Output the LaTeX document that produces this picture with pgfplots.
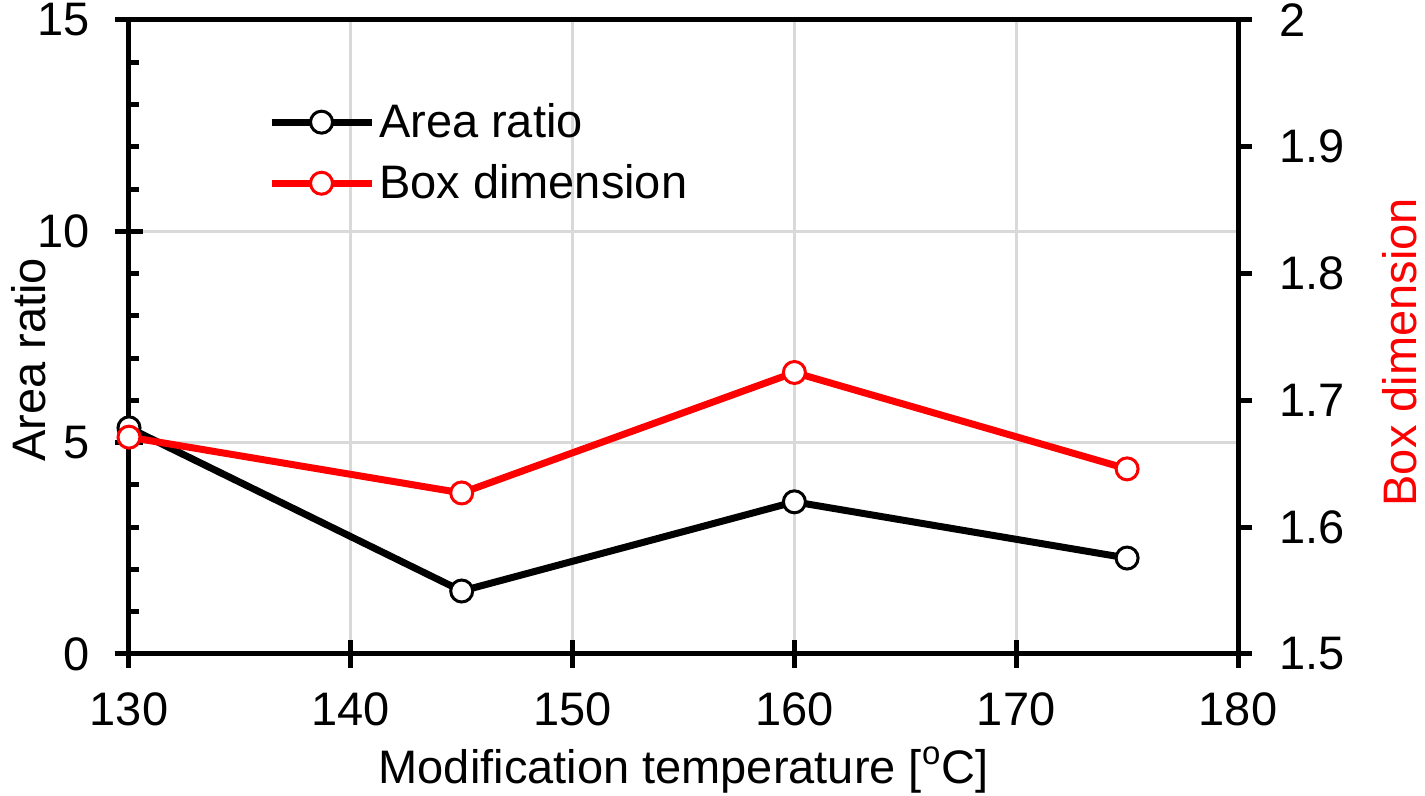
\documentclass[border=0pt]{standalone}
\usepackage{fontspec}
\setmainfont{Liberation Sans}
\usepackage{pgfplots}
\pgfplotsset{compat=1.18}
\definecolor{gridgray}{RGB}{217,217,217}
\newcommand{\bigfont}{\fontsize{23.5}{28}\selectfont}

\pgfplotsset{
  common/.style={
    scale only axis, width=554.5pt, height=317pt,
    xmin=130, xmax=180,
    tick label style={font=\bigfont},
    /pgf/number format/assume math mode=true,
    label style={font=\bigfont},
    axis line style={line width=2.5pt},
    major tick style={black, line width=2.5pt},
  },
  pline/.style={line width=3.5pt, mark=*, mark size=5.5pt},
}

\begin{document}
\begin{tikzpicture}
\path[use as bounding box] (-64.5pt,-71pt) rectangle (648pt,327pt);

\begin{axis}[
  common,
  ymin=0, ymax=15,
  xtick={130,140,...,180}, ytick={0,5,10,15},
  minor y tick num=4,
  xtick pos=bottom, ytick pos=left,
  tick align=center,
  major tick length=14pt,
  minor tick length=5pt,
  minor tick style={black, line width=2.5pt, xshift=2.5pt},
  xticklabel style={yshift=-9pt},
  yticklabel style={xshift=-9pt},
  grid=major,
  major grid style={gridgray, line width=1.5pt},
  xlabel={Modification temperature [\textsuperscript{o}C]},
  ylabel={Area ratio},
  xlabel style={at={(axis description cs:0.5,-0.183)}, anchor=center},
  ylabel style={at={(axis description cs:-0.09,0.464)}, anchor=center},
  legend style={at={(0.125,0.875)}, anchor=north west, draw=none, fill=none,
    font=\bigfont, inner sep=0pt, row sep=8pt},
  legend cell align=left,
  legend image code/.code={
    \draw[mark repeat=2, mark phase=2] plot coordinates {(0pt,0pt) (25pt,0pt) (50pt,0pt)};},
]
\addplot[black, pline, mark options={draw=black, fill=white, line width=1.5pt}] coordinates {
  (130,5.35) (145,1.49) (160,3.60) (175,2.27)};
\addlegendentry{Area ratio}
\addlegendimage{red, pline, mark options={draw=red, fill=white, line width=1.5pt}}
\addlegendentry{Box dimension}
\end{axis}

\begin{axis}[
  common,
  ymin=1.5, ymax=2,
  axis x line=none, axis y line*=right,
  ytick={1.5,1.6,1.7,1.8,1.9,2},
  tick align=outside,
  major tick length=7pt,
  yticklabel style={xshift=10pt},
  ylabel={Box dimension},
  ylabel style={red, at={(axis description cs:1.146,0.476)}, anchor=center},
]
\addplot[red, pline, mark options={draw=red, fill=white, line width=1.5pt}] coordinates {
  (130,1.671) (145,1.627) (160,1.722) (175,1.646)};
\end{axis}
\end{tikzpicture}
\end{document}
